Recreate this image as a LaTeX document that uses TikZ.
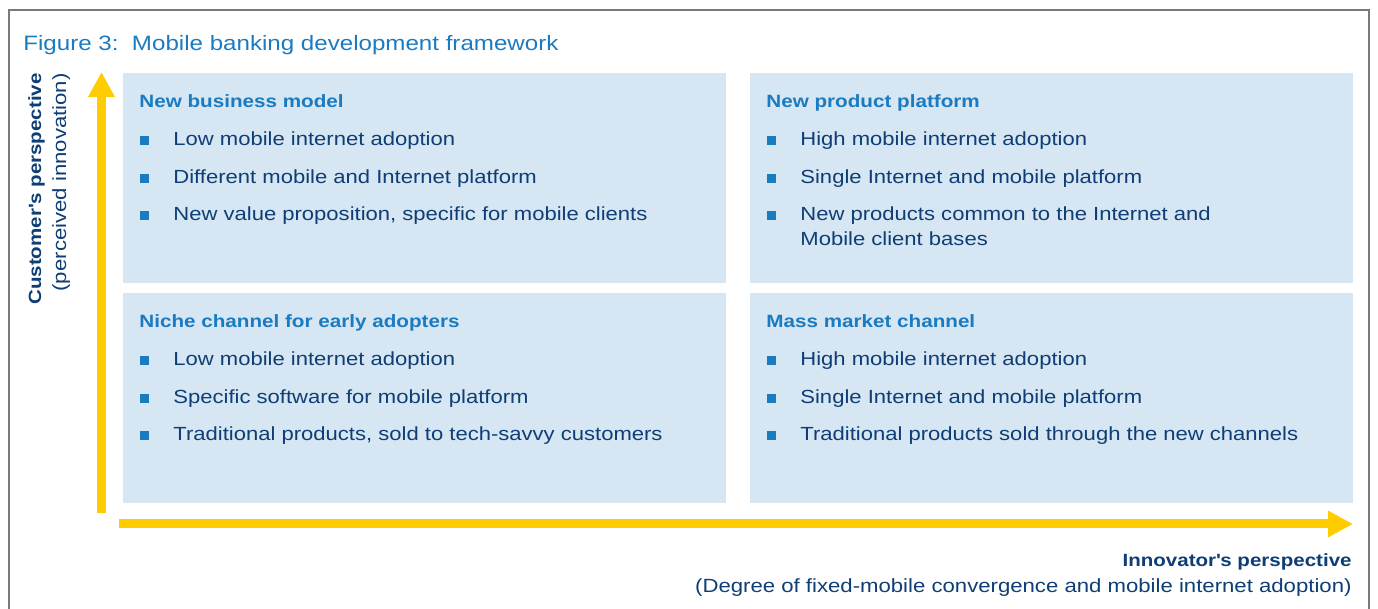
\documentclass[tikz,border=0pt]{standalone}
\usepackage{fontspec}
\setmainfont{Liberation Sans}[FakeStretch=1.16]
\usetikzlibrary{arrows.meta}

\definecolor{kblue}{HTML}{1A7BC1}
\definecolor{knavy}{HTML}{0E3E75}
\definecolor{boxfill}{HTML}{D6E6F3}
\definecolor{axisyellow}{HTML}{FFCC00}
\definecolor{framegray}{HTML}{7A7A7A}

\tikzset{
  quad/.style={fill=boxfill, draw=none, inner sep=0pt, anchor=north west,
    minimum width=301.5pt, minimum height=105pt},
  figtitle/.style={anchor=base west, inner sep=0pt, text=kblue,
    font=\fontsize{10.4}{12}\selectfont},
  quadhead/.style={anchor=base west, inner sep=0pt, text=kblue,
    font=\fontsize{8.9}{10}\selectfont\bfseries},
  quaditem/.style={anchor=base west, inner sep=0pt, text=knavy, align=left,
    font=\fontsize{9.5}{12.5}\selectfont},
  sqbullet/.style={fill=kblue, draw=none, inner sep=0pt, minimum size=4.6pt},
  axislabel/.style={inner sep=0pt, text=knavy, font=\fontsize{8.85}{10}\selectfont\bfseries},
  axisnote/.style={inner sep=0pt, text=knavy, font=\fontsize{9.55}{12}\selectfont},
  axisarrow/.style={draw=axisyellow, line width=4.5pt,
    -{Triangle[length=12.5pt,width=12.5pt]}},
}

% one bullet line: bullet x, text x, baseline y, text
\newcommand\quadline[4]{%
  \node[sqbullet] at (#1,#3-5) {};
  \node[quaditem] at (#2,#3) {#4};
}

\begin{document}
\begin{tikzpicture}[x=0.5pt,y=-0.5pt]
  \path[use as bounding box] (0,0) rectangle (1378,609);

  % outer frame, open at the bottom
  \draw[framegray, line width=1.25pt] (9,609) -- (9,10) -- (1369,10) -- (1369,609);

  \node[figtitle] (title) at (23,51) {Figure 3:\ \ Mobile banking development framework};

  % the four quadrants
  \node[quad] (q1) at (123,73) {};
  \node[quad] (q2) at (750,73) {};
  \node[quad] (q3) at (123,293) {};
  \node[quad] (q4) at (750,293) {};

  % top left
  \node[quadhead] (h1) at (139,108) {New business model};
  \quadline{144.5}{173}{145.5}{Low mobile internet adoption}
  \quadline{144.5}{173}{183.5}{Different mobile and Internet platform}
  \quadline{144.5}{173}{220.5}{New value proposition, specific for mobile clients}

  % top right
  \node[quadhead] (h2) at (766,108) {New product platform};
  \quadline{771.5}{800}{145.5}{High mobile internet adoption}
  \quadline{771.5}{800}{183.5}{Single Internet and mobile platform}
  % two-line item: the base anchor sits on its last line
  \node[sqbullet] at (771.5,215.5) {};
  \node[quaditem] at (800,245.5) {New products common to the Internet and\\Mobile client bases};

  % bottom left
  \node[quadhead] (h3) at (139,328) {Niche channel for early adopters};
  \quadline{144.5}{173}{365.5}{Low mobile internet adoption}
  \quadline{144.5}{173}{403.5}{Specific software for mobile platform}
  \quadline{144.5}{173}{440.5}{Traditional products, sold to tech-savvy customers}

  % bottom right
  \node[quadhead] (h4) at (766,328) {Mass market channel};
  \quadline{771.5}{800}{365.5}{High mobile internet adoption}
  \quadline{771.5}{800}{403.5}{Single Internet and mobile platform}
  \quadline{771.5}{800}{440.5}{Traditional products sold through the new channels}

  % axes
  \coordinate (yfoot) at (101.5,513);
  \coordinate (ytip) at (101.5,72);
  \coordinate (xfoot) at (119,524);
  \coordinate (xtip) at (1353,524);
  \draw[axisarrow] (yfoot) -- (ytip);
  \draw[axisarrow] (xfoot) -- (xtip);

  % axis labels
  \node[axislabel, rotate=90, anchor=base east] (ylab) at (41,73) {Customer\textquotesingle s perspective};
  \node[axisnote, rotate=90, anchor=base east] (ynote) at (66,73) {(perceived innovation)};
  \node[axislabel, anchor=base east] (xlab) at (1352,567) {Innovator\textquotesingle s perspective};
  \node[axisnote, anchor=base east] (xnote) at (1352,592) {(Degree of fixed-mobile convergence and mobile internet adoption)};
\end{tikzpicture}
\end{document}
